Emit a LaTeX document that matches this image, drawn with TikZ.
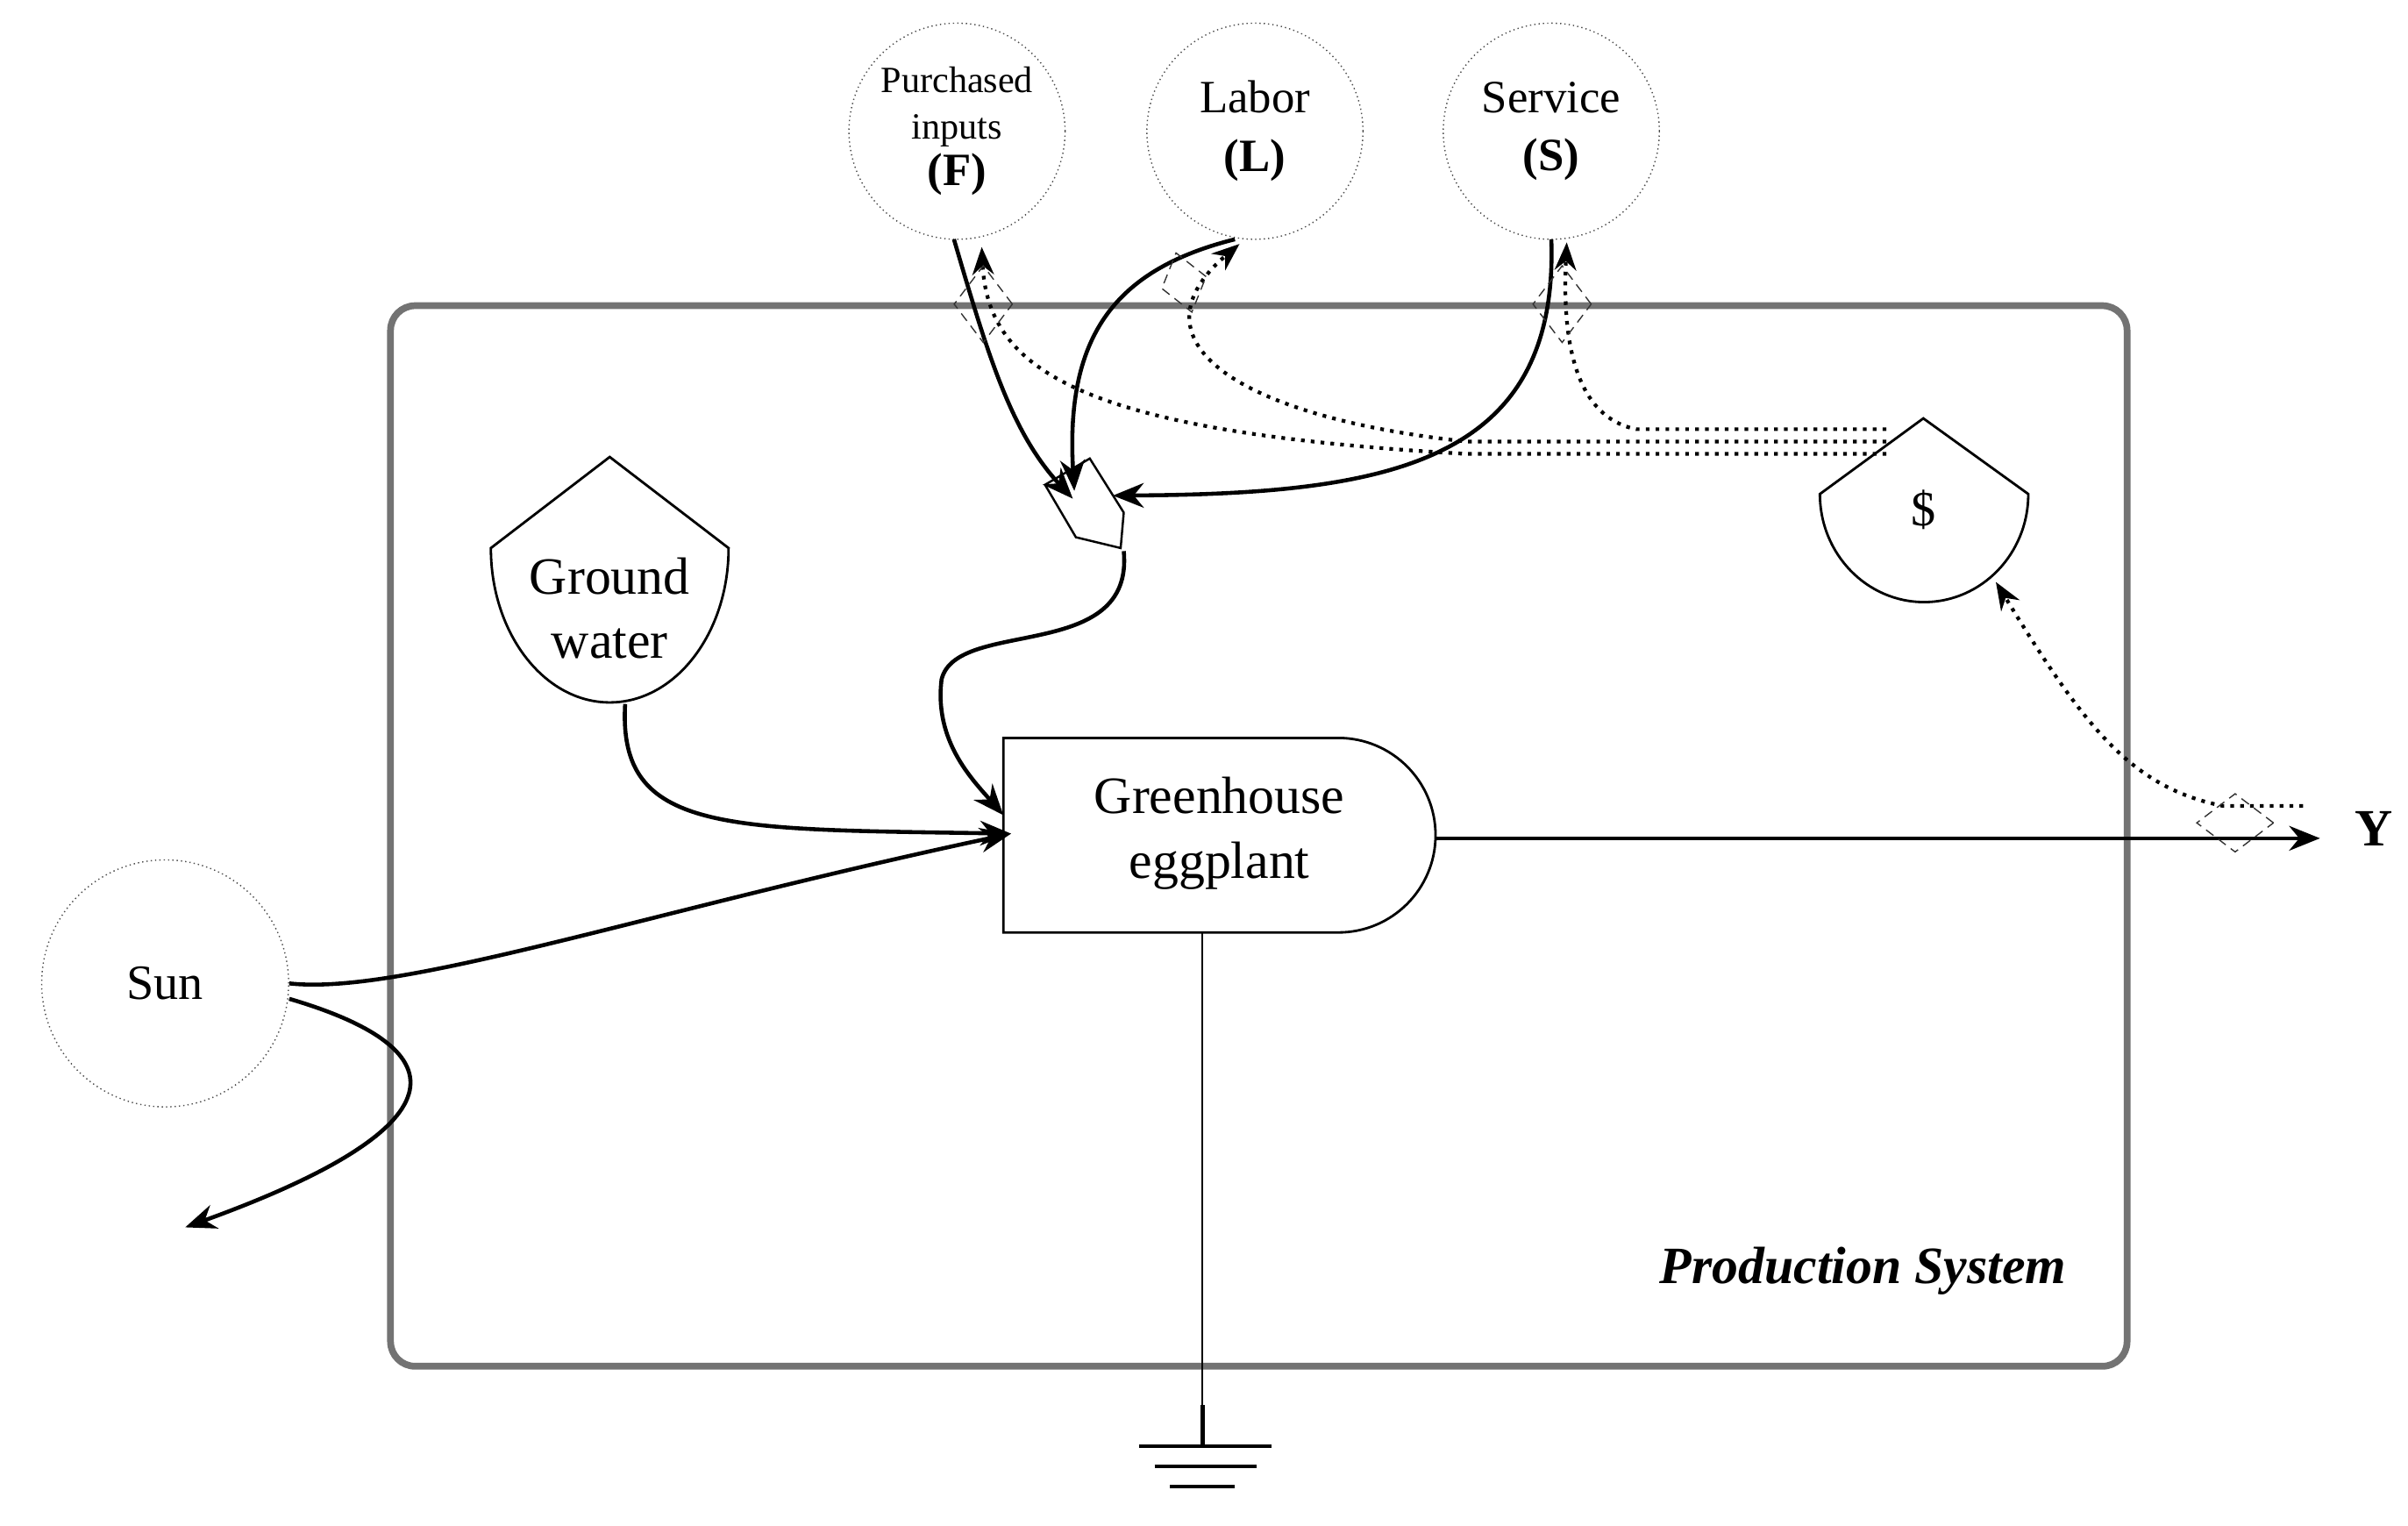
\documentclass[tikz,border=0pt]{standalone}
\usepackage{fontspec}
\setmainfont{Liberation Serif}
\usetikzlibrary{arrows.meta,shapes.geometric}
\begin{document}
\begin{tikzpicture}[x=0.0176cm,y=-0.0176cm,
  src/.style={circle,draw=black!70,densely dotted,thin,minimum size=140*0.0176cm,inner sep=0pt,align=center},
  flow/.style={line width=1.3pt,-{Stealth[length=10pt,width=8pt]}},
  money/.style={line width=1.2pt,dotted,-{Stealth[length=9pt,width=7pt]}},
  dia/.style={diamond,draw=black!80,densely dashed,line width=0.4pt,minimum width=38*0.0176cm,minimum height=50*0.0176cm,inner sep=0pt},
  shp/.style={draw,line width=0.8pt}]
\useasboundingbox (0,0) rectangle (1560,988);
% frame
\draw[black!55,line width=2.2pt,rounded corners=8pt] (253,198) rectangle (1378,885);
\node[font=\fontsize{17}{20}\selectfont\bfseries\itshape] (ps) at (1207,823) {Production System};
% sources
\node[src,minimum size=160*0.0176cm,font=\fontsize{16}{19}\selectfont] (sun) at (107,637) {Sun};
\node[src,font=\fontsize{12}{15}\selectfont] (F) at (620,85) {Purchased\\inputs\\{\fontsize{15}{18}\selectfont\bfseries(F)}};
\node[src,font=\fontsize{15}{19}\selectfont] (L) at (813,85) {Labor\\\textbf{(L)}};
\node[src,font=\fontsize{15}{19}\selectfont] (S) at (1005,85) {Service\\\textbf{(S)}};
% ground water tank
\draw[shp] (395,296) -- (472,355) arc[start angle=0,end angle=180,x radius=77,y radius=100] -- cycle;
\node[font=\fontsize{17}{21}\selectfont,align=center] (gw) at (395,394) {Ground\\water};
% money tank
\draw[shp] (1246,271) -- (1314,320) arc[start angle=0,end angle=180,x radius=67.5,y radius=70] -- cycle;
\node[font=\fontsize{16}{19}\selectfont] (dol) at (1246,330) {\$};
% greenhouse producer
\draw[shp] (867,478) -- (650,478) -- (650,604) -- (867,604) arc[start angle=90,end angle=-90,radius=63];
\node[font=\fontsize{17}{21}\selectfont,align=center] (gh) at (790,540) {Greenhouse\\eggplant};
% junction
\draw[shp,line width=0.7pt] (677,314) -- (706,297) -- (728,332) -- (726,355) -- (697,348) -- cycle;
% ground sink
\coordinate (gtop) at (779,604);
\coordinate (gbot) at (779,937);
\draw[line width=0.6pt] (gtop) -- (779,910);
\draw[line width=1.4pt] (779,910) -- (gbot);
\draw[line width=1.1pt] (738,937) -- (824,937) (748,950) -- (814,950) (758,963) -- (800,963);
% coordinates
\coordinate (ghin) at (655,540);
\coordinate (jA) at (695,323);
\coordinate (jB) at (721,321);
\coordinate (jout) at (728,357);
\coordinate (ghin2) at (650,528);
\coordinate (ghout) at (930,543);
\coordinate (yend) at (1503,543);
\coordinate (sunout) at (120,795);
\coordinate (gws) at (405,456);
% flows
\draw[flow] (sun.east) .. controls (260,645) and (420,590) .. (ghin);
\draw[flow] ([yshift=-5pt]sun.east) .. controls (300,680) and (300,730) .. (sunout);
\draw[flow] (gws) .. controls (400,540) and (470,537) .. (ghin);
\draw[flow] (618,155) .. controls (640,230) and (655,280) .. (jA);
\draw[flow] (800,155) .. controls (720,175) and (690,220) .. (696,318);
\draw[flow] (1005,155) .. controls (1010,300) and (900,320) .. (jB);
\draw[flow] (jout) .. controls (735,430) and (620,400) .. (610,440) .. controls (605,480) and (630,505) .. (ghin2);
\draw[flow] (ghout) -- (yend);
\node[font=\fontsize{17}{20}\selectfont\bfseries] (Y) at (1538,537) {Y};
% money flows
\coordinate (m1) at (1222,278);
\coordinate (m2) at (1222,286);
\coordinate (m3) at (1222,294);
\draw[money] (m1) -- (1060,278) .. controls (1020,270) and (1012,220) .. (1015,157);
\draw[money] (m2) -- (950,286) .. controls (800,270) and (730,220) .. (803,158);
\draw[money] (m3) -- (950,294) .. controls (700,280) and (640,240) .. (636,160);
\coordinate (ymon) at (1492,522);
\draw[money] (ymon) -- (1440,522) .. controls (1380,510) and (1350,470) .. (1293,377);
% diamonds
\node[dia] (d1) at (637,197) {};
\node[dia,rotate=15,minimum width=30*0.0176cm,minimum height=40*0.0176cm] (d2) at (767,183) {};
\node[dia] (d3) at (1012,197) {};
\node[dia,minimum width=50*0.0176cm,minimum height=38*0.0176cm] (d4) at (1448,533) {};
\end{tikzpicture}
\end{document}
